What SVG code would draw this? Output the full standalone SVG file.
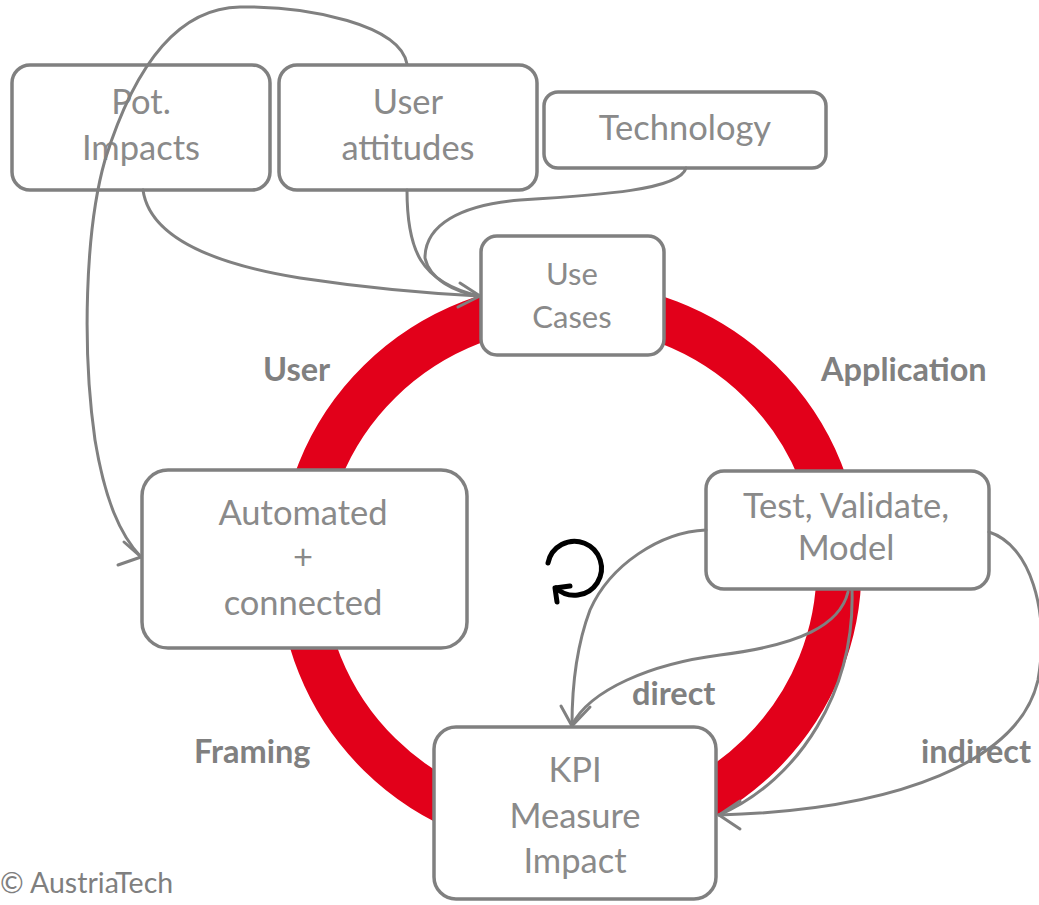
<svg xmlns="http://www.w3.org/2000/svg" width="1039" height="905" viewBox="0 0 1039 905">
<style>
.box{fill:#fff;stroke:#808080;stroke-width:3.5}
.t{font-family:Lato,"Open Sans",sans-serif;font-size:34.5px;fill:#8a8a8a;text-anchor:middle}
.s{font-size:31px}
.lb{font-family:Lato,"Open Sans",sans-serif;font-size:32.5px;font-weight:bold;fill:#808080}
.c{fill:none;stroke:#808080;stroke-width:3;stroke-linecap:round;stroke-linejoin:round}
</style>
<rect width="1039" height="905" fill="#fff"/>
<g id="ring"><ellipse cx="570" cy="568" rx="269" ry="264" fill="none" stroke="#E2001A" stroke-width="45"/></g>
<g id="pot-impacts"><rect class="box" x="12" y="65" width="258" height="125" rx="18"/><text class="t" x="141" y="114">Pot.</text><text class="t" x="141" y="160">Impacts</text></g>
<g id="user-attitudes"><rect class="box" x="279" y="65" width="258" height="125" rx="18"/><text class="t" x="408" y="114">User</text><text class="t" x="408" y="160">attitudes</text></g>
<g id="technology"><rect class="box" x="544" y="92" width="282" height="76" rx="14"/><text class="t" x="685" y="140">Technology</text></g>
<g id="use-cases"><rect class="box" x="481" y="236" width="183" height="119" rx="16"/><text class="t s" x="572" y="285">Use</text><text class="t s" x="572" y="328">Cases</text></g>
<g id="automated"><rect class="box" x="142" y="470" width="325" height="178" rx="26"/><text class="t" x="303" y="525">Automated</text><text class="t" x="303" y="569">+</text><text class="t" x="303" y="615">connected</text></g>
<g id="test"><rect class="box" x="706" y="471" width="283" height="118" rx="18"/><text class="t" x="846" y="518">Test, Validate,</text><text class="t" x="846" y="560">Model</text></g>
<g id="kpi"><rect class="box" x="434" y="727" width="282" height="172" rx="22"/><text class="t" x="575" y="782">KPI</text><text class="t" x="575" y="828">Measure</text><text class="t" x="575" y="873">Impact</text></g>
<g id="labels">
<text class="lb" x="263" y="381">User</text>
<text class="lb" x="821" y="381">Application</text>
<text class="lb" x="194" y="763">Framing</text>
<text class="lb" x="632" y="705">direct</text>
<text class="lb" x="921" y="763">indirect</text>
<text x="0" y="893" style="font-family:Lato,'Open Sans',sans-serif;font-size:28.5px;fill:#7f7f7f">© AustriaTech</text>
</g>
<g id="cycle-icon" fill="none" stroke="#000" stroke-width="5" stroke-linecap="round" stroke-linejoin="round">
<path d="M548,563 A27,27 0 1 1 556,588"/>
<path d="M570,586 L555,588 L557,602"/>
</g>
<g id="connectors" class="c">
<path class="c" d="M407,64 C400,25 310,6 240,7 C170,8 130,80 105,160 C85,230 82,350 95,440 C105,500 120,535 141,557"/>
<path class="c" d="M118,565 L141,557 L124,542"/>
<path class="c" d="M143,190 C150,240 220,265 300,278 C380,290 440,294 479,296"/>
<path class="c" d="M407,190 C407,250 420,282 479,296"/>
<path class="c" d="M686,168 C680,190 600,195 520,200 C460,205 425,225 425,258 C430,280 455,292 479,296"/>
<path class="c" d="M460,283 L480,296 L458,307"/>
<path class="c" d="M706,530 C660,532 610,565 590,610 C575,650 572,690 572,725"/>
<path class="c" d="M848,592 C840,625 800,645 720,655 C650,664 590,690 572,725"/>
<path class="c" d="M561,706 L572,726 L590,707"/>
<path class="c" d="M852,590 C855,690 800,780 719,815"/>
<path class="c" d="M989,532 C1030,545 1050,610 1038,680 C1020,760 900,810 719,815"/>
<path class="c" d="M740,801 L719,815 L740,829"/>
</g>
</svg>
